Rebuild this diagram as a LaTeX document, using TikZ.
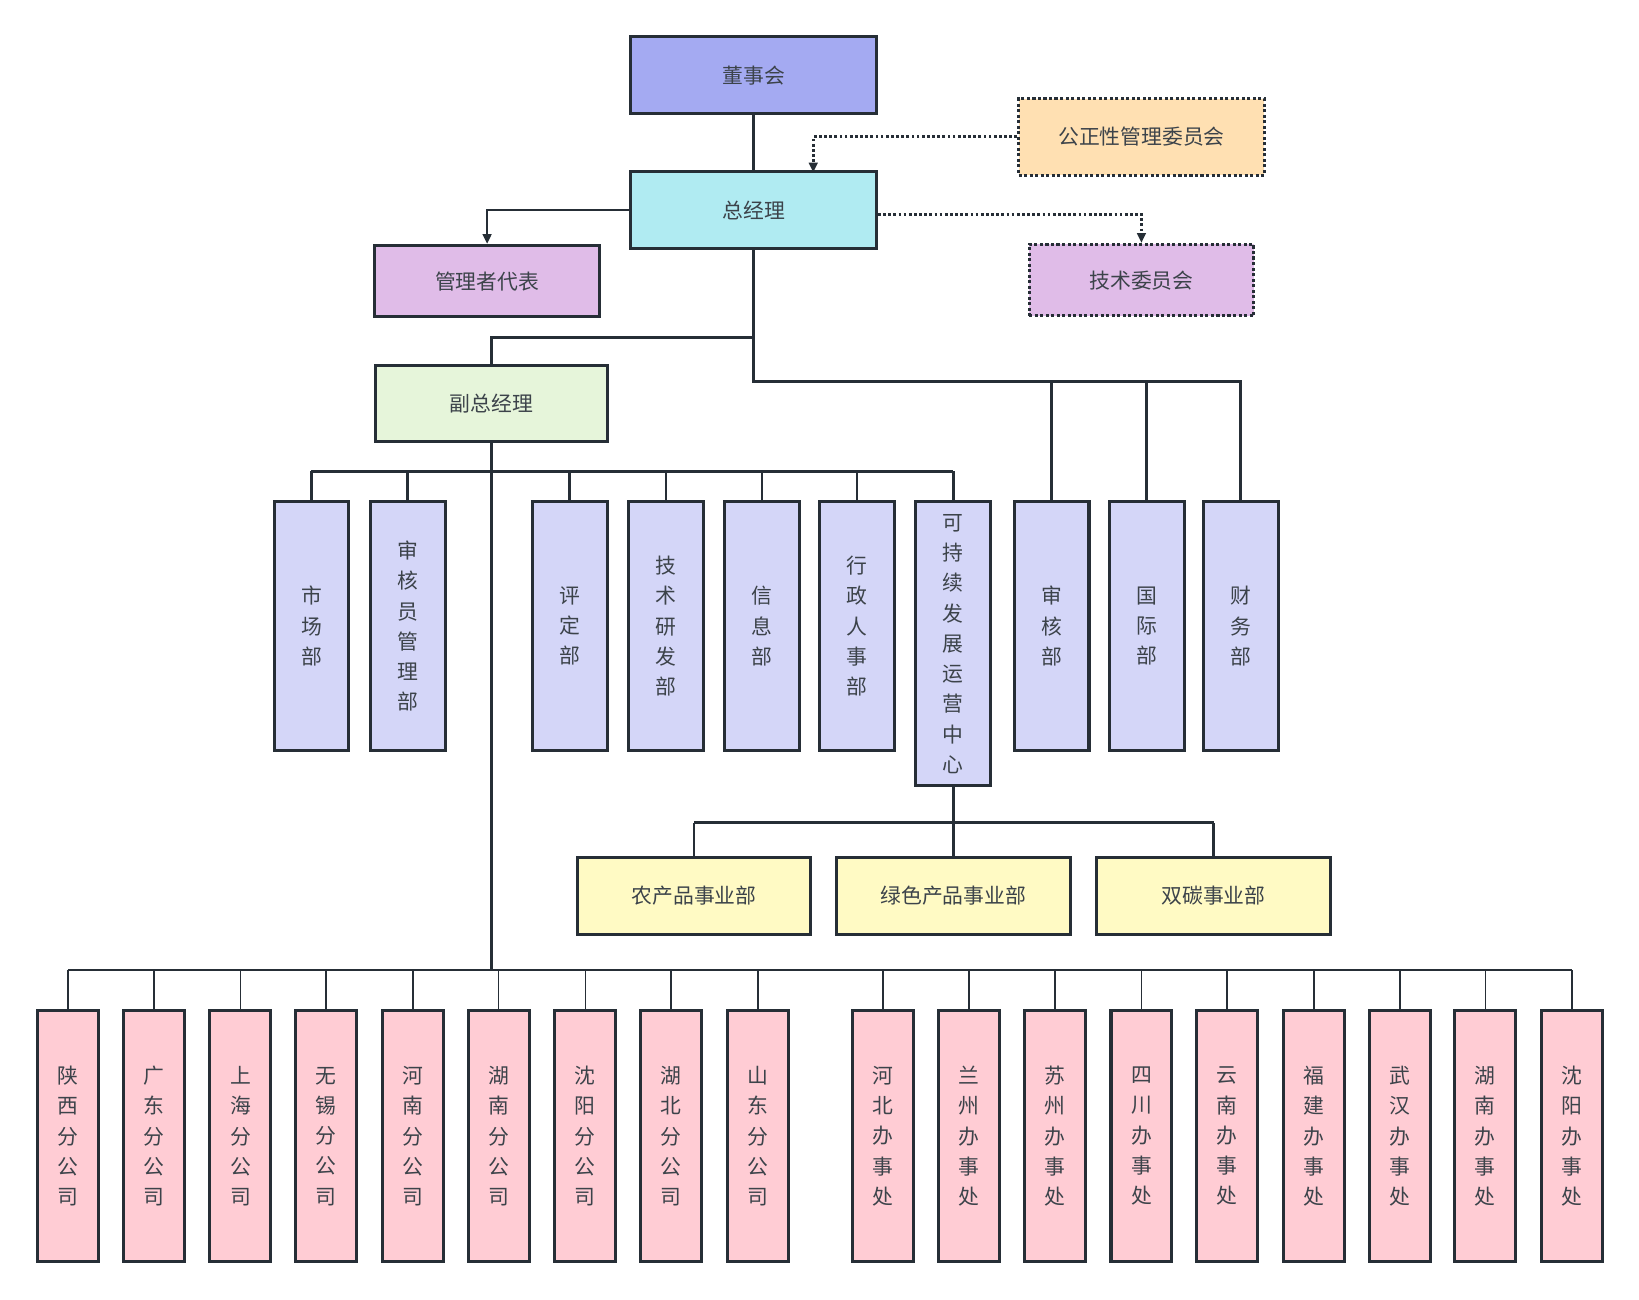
\documentclass[tikz,border=0pt]{standalone}
\usepackage{fontspec}
\setmainfont{Noto Sans CJK SC}
\usetikzlibrary{arrows.meta,positioning}
\definecolor{cdong}{RGB}{164,170,242}
\definecolor{czong}{RGB}{176,235,242}
\definecolor{cgong}{RGB}{255,224,178}
\definecolor{cji}{RGB}{224,188,232}
\definecolor{cfu}{RGB}{230,245,218}
\definecolor{cdept}{RGB}{212,214,248}
\definecolor{cbiz}{RGB}{255,250,196}
\definecolor{cbr}{RGB}{255,204,212}
\definecolor{cline}{RGB}{38,46,54}
\begin{document}
\begin{tikzpicture}[x=0.03cm,y=-0.03cm,>={Triangle[length=8pt,width=7pt]},
  every node/.style={font=\fontsize{17}{24.7}\selectfont,text=cline!90},
  box/.style={draw=cline,line width=2.5pt,inner sep=0pt,align=center},
  hbox/.style={box,minimum width=7.05cm,minimum height=2.2cm},
  dept/.style={box,fill=cdept,minimum width=2.15cm,minimum height=7.15cm},
  branch/.style={box,fill=cbr,minimum width=1.75cm,minimum height=7.2cm},
  biz/.style={hbox,fill=cbiz,minimum width=6.7cm},
  link/.style={draw=cline,line width=2.2pt},
  dots/.style={link,dotted,line width=2.4pt}]
\useasboundingbox (0,0) rectangle (1568,1243);
% top level
\node[hbox,fill=cdong] (dong) at (721,72) {董事会};
\node[hbox,fill=czong] (zong) at (721,201) {总经理};
\node[hbox,fill=cgong,dotted] (gong) at (1092,131) {公正性管理委员会};
\node[hbox,fill=cji,dotted,minimum width=6.45cm,minimum height=2.05cm] (jiwei) at (1092,268) {技术委员会};
\node[hbox,fill=cji,minimum width=6.45cm,minimum height=2.05cm] (guan) at (466,269) {管理者代表};
\node[hbox,fill=cfu,minimum width=6.65cm] (fu) at (470,386) {副总经理};
% departments
\node[dept] (d1) at (298,599) {市\\场\\部};
\node[dept] (d2) at (390,599) {审\\核\\员\\管\\理\\部};
\node[dept] (d3) at (545,599) {评\\定\\部};
\node[dept] (d4) at (637,599) {技\\术\\研\\发\\部};
\node[dept] (d5) at (729,599) {信\\息\\部};
\node[dept] (d6) at (820,599) {行\\政\\人\\事\\部};
\node[dept,minimum height=8.15cm] (d7) at (912,616) {可\\持\\续\\发\\展\\运\\营\\中\\心};
\node[dept] (d8) at (1006,599) {审\\核\\部};
\node[dept] (d9) at (1097,599) {国\\际\\部};
\node[dept] (d10) at (1187,599) {财\\务\\部};
% business units
\node[biz] (u1) at (664,857) {农产品事业部};
\node[biz] (u2) at (912,857) {绿色产品事业部};
\node[biz] (u3) at (1161,857) {双碳事业部};
% branches
\foreach \n/\x/\t in {1/65/陕\\西\\分\\公\\司, 2/147/广\\东\\分\\公\\司, 3/230/上\\海\\分\\公\\司,
  4/312/无\\锡\\分\\公\\司, 5/395/河\\南\\分\\公\\司, 6/477/湖\\南\\分\\公\\司,
  7/560/沈\\阳\\分\\公\\司, 8/642/湖\\北\\分\\公\\司, 9/725/山\\东\\分\\公\\司,
  10/845/河\\北\\办\\事\\处, 11/927/兰\\州\\办\\事\\处, 12/1009/苏\\州\\办\\事\\处,
  13/1092/四\\川\\办\\事\\处, 14/1174/云\\南\\办\\事\\处, 15/1257/福\\建\\办\\事\\处,
  16/1339/武\\汉\\办\\事\\处, 17/1421/湖\\南\\办\\事\\处, 18/1504/沈\\阳\\办\\事\\处}
  \node[branch] (b\n) at (\x,1087) {\t};
% connectors
\draw[link] (dong) -- (zong);
\draw[dots,->] (gong.west) -| (778,165);
\draw[dots,->] (zong.east |- 0,205) -| (jiwei.north);
\draw[link,->] (zong.west) -| (guan.north);
\draw[link] (zong.south) |- (721,323) -| (fu.north);
\draw[link] (zong.south) |- (721,365) -| (d10.north);
\foreach \d in {d8,d9} \draw[link] (\d.north) -- (\d.north |- 0,365);
\draw[link] (fu.south) -- (470,451);
\draw[link] (298,451) -- (912,451);
\foreach \d in {d1,d2,d3,d4,d5,d6,d7} \draw[link] (\d.north) -- (\d.north |- 0,451);
\draw[link] (d7.south) -- (912,787);
\draw[link] (664,787) -- (1161,787);
\foreach \u in {u1,u2,u3} \draw[link] (\u.north) -- (\u.north |- 0,787);
\draw[link] (470,451) -- (470,928);
\draw[link,line width=1.4pt] (65,928) -- (1504,928);
\foreach \n in {1,...,18} \draw[link,line width=1.4pt] (b\n.north) -- (b\n.north |- 0,928);
\end{tikzpicture}
\end{document}
